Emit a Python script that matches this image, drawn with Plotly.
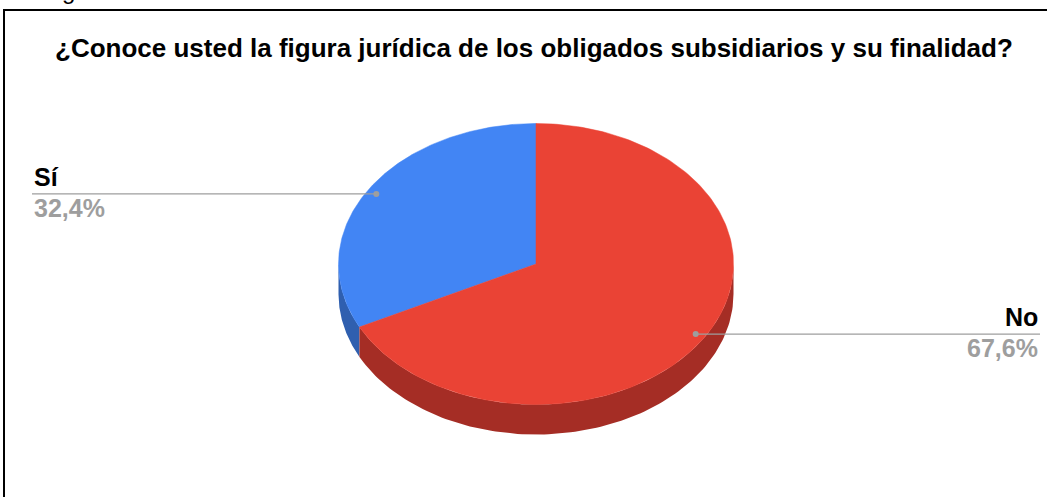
import numpy as np
import plotly.graph_objects as go

# Data
categories = ["Sí", "No"]
values = [32.4, 67.6]
value_labels = ["32,4%", "67,6%"]
title_text = "¿Conoce usted la figura jurídica de los obligados subsidiarios y su finalidad?"
caption_text = "Figura 3"

# Styles
top_colors = ["#4285F4", "#EA4335"]
side_colors = ["#2F5FAF", "#A52D25"]
W, H = 1047, 497
cx, cy, rx, ry, depth = 536, 264, 197.5, 140.5, 30
font = "Liberation Sans, Arial, sans-serif"

def pt(theta_deg, k=1.0, dy=0.0):
    t = np.radians(theta_deg)
    return cx - k * rx * np.sin(t), cy - k * ry * np.cos(t) + dy

fig = go.Figure()

total = sum(values)
starts, ends = [], []
acc = 0.0
for v in values:
    starts.append(acc / total * 360)
    acc += v
    ends.append(acc / total * 360)

# sides (visible front half: 90..270 deg ccw from top)
for i in range(len(values)):
    a = max(starts[i], 90)
    b = min(ends[i], 270)
    if b <= a:
        continue
    th = np.linspace(a, b, 120)
    xt, yt = pt(th)
    xb, yb = pt(th[::-1], dy=depth)
    fig.add_trace(go.Scatter(x=np.concatenate([xt, xb, xt[:1]]), y=np.concatenate([yt, yb, yt[:1]]),
                             mode="lines", fill="toself", fillcolor=side_colors[i],
                             line=dict(width=0, color=side_colors[i]), hoverinfo="skip", showlegend=False))

# tops
for i in range(len(values)):
    th = np.linspace(starts[i], ends[i], 200)
    xt, yt = pt(th)
    xs = np.concatenate([[cx], xt, [cx]])
    ys = np.concatenate([[cy], yt, [cy]])
    fig.add_trace(go.Scatter(x=xs, y=ys, mode="lines", fill="toself", fillcolor=top_colors[i],
                             line=dict(width=0.5, color=top_colors[i]), hoverinfo="skip", showlegend=False))

annotations = []
label_edges = [32, 1040]
for i in range(len(values)):
    mid = (starts[i] + ends[i]) / 2
    dx, dy_ = pt(mid, k=0.95)
    edge = label_edges[i]
    fig.add_trace(go.Scatter(x=[dx, edge], y=[dy_, dy_], mode="lines",
                             line=dict(color="#9E9E9E", width=1.3), hoverinfo="skip", showlegend=False))
    fig.add_trace(go.Scatter(x=[dx], y=[dy_], mode="markers",
                             marker=dict(color="#9E9E9E", size=6), hoverinfo="skip", showlegend=False))
    anchor = "left" if edge < cx else "right"
    annotations.append(dict(x=edge, y=dy_ - 17, text="<b>%s</b>" % categories[i], showarrow=False,
                            xanchor=anchor, yanchor="middle", font=dict(size=25, color="#000000", family=font)))
    annotations.append(dict(x=edge, y=dy_ + 14, text="<b>%s</b>" % value_labels[i], showarrow=False,
                            xanchor=anchor, yanchor="middle", font=dict(size=25, color="#9E9E9E", family=font)))

annotations.append(dict(x=534, y=48, text="<b>%s</b>" % title_text, showarrow=False,
                        xanchor="center", yanchor="middle", font=dict(size=26, color="#000000", family=font)))
annotations.append(dict(x=40, y=6, text=caption_text, showarrow=False,
                        xanchor="left", yanchor="bottom", font=dict(size=24, color="#000000", family=font)))

fig.update_layout(
    width=W, height=H, margin=dict(l=0, r=0, t=0, b=0),
    paper_bgcolor="white", plot_bgcolor="white",
    xaxis=dict(range=[0, W], visible=False, fixedrange=True),
    yaxis=dict(range=[H, 0], visible=False, fixedrange=True),
    annotations=annotations,
    shapes=[
        dict(type="line", x0=3, x1=W, y0=10, y1=10, line=dict(color="#000000", width=2)),
        dict(type="line", x0=4, x1=4, y0=10, y1=H, line=dict(color="#000000", width=2)),
    ],
)
fig.write_html("out.html")
